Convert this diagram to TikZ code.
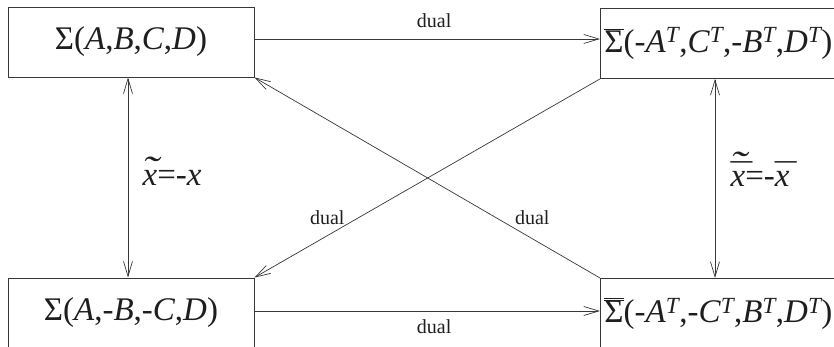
\documentclass[tikz,border=0pt]{standalone}
\usepackage{fontspec}
\setmainfont{Liberation Serif}
\usepackage{xcolor}
\definecolor{linegray}{RGB}{55,55,55}
\definecolor{textdark}{RGB}{30,30,30}
\usetikzlibrary{arrows.meta, positioning, calc}

\newcommand{\sysfont}{\fontsize{33}{38}\selectfont}
\newcommand{\lblfont}{\fontsize{20}{24}\selectfont}
\newcommand{\tp}{\textsuperscript{\itshape T}}
\newcommand{\ivar}[1]{\textit{#1}}
\newcommand{\widetil}{\scalebox{1.5}[1.1]{˜}}
\newcommand{\tildex}{{\itshape\ooalign{x\cr\hidewidth\raisebox{0.1em}{\widetil}\hidewidth\cr}}}
\newcommand{\barx}{{\itshape\ooalign{x\cr\hidewidth\scalebox{1.3}[1]{¯}\hidewidth\cr}}}
\newcommand{\tildebarx}{{\itshape\ooalign{x\cr\hidewidth\scalebox{1.3}[1]{¯}\hidewidth\cr\hidewidth\raisebox{0.3em}{\widetil}\hidewidth\cr}}}

\begin{document}
\begin{tikzpicture}[x=1pt, y=-1pt, >={Straight Barb[length=15pt,width=9pt]},
    box/.style={draw=linegray, line width=0.9pt, minimum height=70pt, inner sep=0pt, font=\sysfont, text=textdark},
    link/.style={draw=linegray, line width=0.7pt},
    lbl/.style={font=\lblfont, text=textdark}]
    \useasboundingbox (0,0) rectangle (834,347);
    \clip (0,0) rectangle (834,347);
    % the four systems
    \node[box, minimum width=246pt] (sysA) at (131,42) {Σ(\ivar{A},\ivar{B},\ivar{C},\ivar{D})};
    \node[box, anchor=north west, minimum width=280pt, text width=272pt, align=left, inner xsep=4pt] (dualA) at (600,8)
        {$\overline{\mbox{Σ}}$(-\ivar{A}\tp,\ivar{C}\tp,-\ivar{B}\tp,\ivar{D}\tp)};
    \node[box, minimum width=246pt] (sysB) at (131,313) {Σ(\ivar{A},-\ivar{B},-\ivar{C},\ivar{D})};
    \node[box, anchor=north west, minimum width=280pt, text width=272pt, align=left, inner xsep=4pt] (dualB) at (600,278)
        {$\overline{\overline{\mbox{Σ}}}$(-\ivar{A}\tp,-\ivar{C}\tp,\ivar{B}\tp,\ivar{D}\tp)};
    % dual links
    \draw[link,->] ([yshift=3pt]sysA.east) -- ([yshift=3pt]sysA.east -| dualA.west)
        node[lbl, pos=0.52, above=8pt] {dual};
    \draw[link,->] ([yshift=2pt]sysB.east) -- ([yshift=2pt]sysB.east -| dualB.west)
        node[lbl, pos=0.52, below=5pt] {dual};
    \draw[link,->] (dualB.north west) -- (sysA.south east) node[lbl, pos=0.3, right=15pt] {dual};
    \draw[link,->] (dualA.south west) -- (sysB.north east) node[lbl, pos=0.7, left=10pt] {dual};
    % state transforms
    \draw[link,<->] ([xshift=-3pt]sysA.south) -- ([xshift=-3pt]sysA.south |- sysB.north)
        node[midway, right=11pt, font=\sysfont, text=textdark] {\tildex=-\ivar{x}};
    \draw[link,<->] ([xshift=115pt]dualA.south west) -- ([xshift=115pt]dualB.north west)
        node[midway, right=12pt, font=\sysfont, text=textdark] {\tildebarx=-\barx};
\end{tikzpicture}
\end{document}
